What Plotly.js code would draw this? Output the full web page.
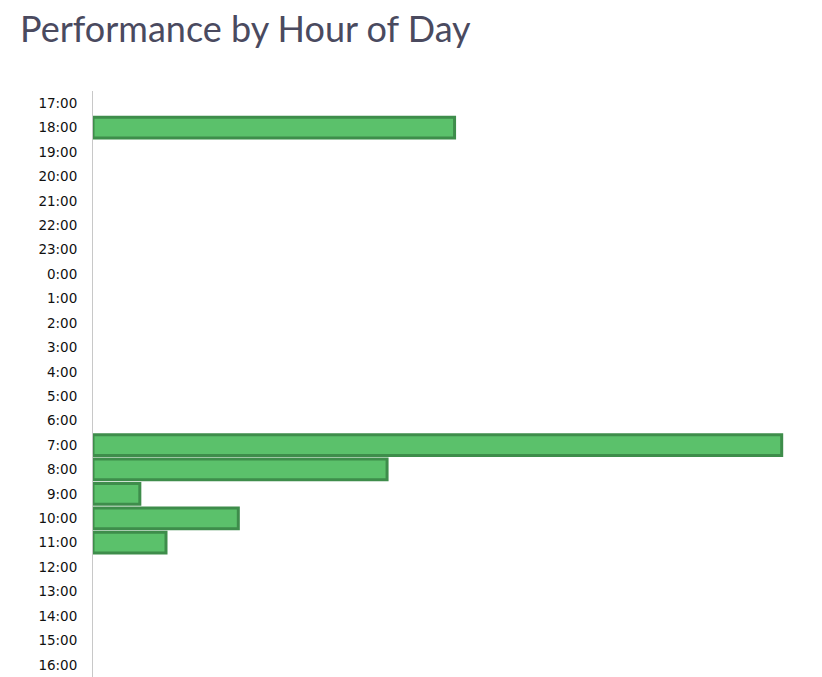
<!DOCTYPE html>
<html>
<head>
<meta charset="utf-8">
<script src="https://cdn.plot.ly/plotly-3.0.1.min.js"></script>
<style>html,body{margin:0;padding:0;background:#fff;}#chart{width:822px;height:677px;}</style>
</head>
<body>
<div id="chart"></div>
<script>
const hours = ["17:00","18:00","19:00","20:00","21:00","22:00","23:00","0:00","1:00","2:00","3:00","4:00","5:00","6:00","7:00","8:00","9:00","10:00","11:00","12:00","13:00","14:00","15:00","16:00"];
const performance = [null,52.5,null,null,null,null,null,null,null,null,null,null,null,null,100,42.7,6.8,21.1,10.6,null,null,null,null,null];
const chartTitle = "Performance by Hour of Day";

const trace = {
  type: 'bar',
  orientation: 'h',
  y: hours,
  x: performance,
  marker: {color: '#5bc16b', line: {color: '#3e8d4b', width: 3}},
  hoverinfo: 'y+x'
};

const layout = {
  width: 822, height: 677,
  margin: {l: 93, r: 10, t: 91, b: 0, pad: 0},
  paper_bgcolor: '#fff', plot_bgcolor: '#fff',
  title: {text: chartTitle, x: 20/822, xref: 'container', xanchor: 'left', y: 1 - 17/677, yref: 'container', yanchor: 'top',
          font: {family: 'Lato, "Open Sans", sans-serif', size: 36, color: '#4a4a5f'}},
  bargap: 0.15,
  showlegend: false,
  xaxis: {visible: false, range: [0, 104.4], fixedrange: true},
  yaxis: {type: 'category', categoryorder: 'array', categoryarray: hours, autorange: 'reversed',
          showline: true, linecolor: '#c8c8c8', linewidth: 1, showgrid: false, zeroline: false,
          ticks: 'outside', ticklen: 12, tickcolor: 'rgba(0,0,0,0)',
          tickfont: {family: '"DejaVu Sans", Verdana, sans-serif', size: 13.5, color: '#111'}}
};

Plotly.newPlot('chart', [trace], layout, {displayModeBar: false, responsive: false});
</script>
</body>
</html>
